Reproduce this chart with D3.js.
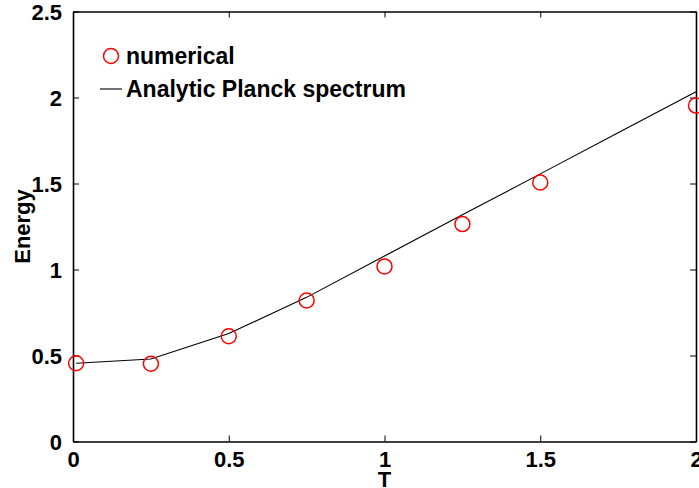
<!DOCTYPE html>
<html>
<head>
<meta charset="utf-8">
<script src="https://cdn.jsdelivr.net/npm/d3@7"></script>
<style>
  html, body { margin: 0; padding: 0; background: #fff; }
  svg text { font-family: "Liberation Sans", Arial, Helvetica, sans-serif; font-weight: bold; }
</style>
</head>
<body>
<div id="chart"></div>
<script>
// numerical results (circles)
const numT = [0.01, 0.25, 0.5, 0.75, 1.0, 1.25, 1.5, 2.0];
const numE = [0.455, 0.452, 0.612, 0.82, 1.018, 1.264, 1.506, 1.953];

// analytic Planck spectrum (line)
const anaT = [0.01, 0.25, 0.5, 0.75, 1.0, 1.25, 1.5, 1.75, 2.0];
const anaE = [0.455, 0.48, 0.628, 0.838, 1.078, 1.318, 1.556, 1.795, 2.033];

const xTicks = [0, 0.5, 1, 1.5, 2];
const yTicks = [0, 0.5, 1, 1.5, 2, 2.5];

const width = 699, height = 488;
const margin = { top: 11.5, right: 3, bottom: 46.5, left: 73 };
const iw = width - margin.left - margin.right;
const ih = height - margin.top - margin.bottom;

const svg = d3.select('#chart').append('svg')
  .attr('width', width).attr('height', height);

const g = svg.append('g').attr('transform', `translate(${margin.left},${margin.top})`);

const x = d3.scaleLinear().domain([0, 2]).range([0, iw]);
const y = d3.scaleLinear().domain([0, 2.5]).range([ih, 0]);

const fmt = d => String(d);
const tickLen = 6;

// axes (ticks pointing inward, on all four sides)
const axB = g.append('g').attr('transform', `translate(0,${ih})`)
  .call(d3.axisBottom(x).tickValues(xTicks).tickFormat(fmt).tickSizeInner(-tickLen).tickSizeOuter(0).tickPadding(10));
const axT = g.append('g')
  .call(d3.axisTop(x).tickValues(xTicks).tickFormat('').tickSizeInner(-tickLen).tickSizeOuter(0));
const axL = g.append('g')
  .call(d3.axisLeft(y).tickValues(yTicks).tickFormat(fmt).tickSizeInner(-tickLen).tickSizeOuter(0).tickPadding(11));
const axR = g.append('g').attr('transform', `translate(${iw},0)`)
  .call(d3.axisRight(y).tickValues(yTicks).tickFormat('').tickSizeInner(-tickLen).tickSizeOuter(0));

[axB, axT, axL, axR].forEach(a => {
  a.select('.domain').attr('stroke', '#000').attr('stroke-width', 1.6);
  a.selectAll('.tick line').attr('stroke', '#000').attr('stroke-width', 1);
  a.selectAll('.tick text').attr('fill', '#000').style('font-size', '22px');
});
axB.selectAll('.tick text').attr('dy', '0.71em');
axL.selectAll('.tick text').attr('dy', '0.36em');

// analytic line
const line = d3.line().x((d, i) => x(anaT[i])).y(d => y(d));
g.append('path').datum(anaE)
  .attr('d', line).attr('fill', 'none').attr('stroke', '#000').attr('stroke-width', 1.1);

// numerical circles
g.selectAll('circle.num').data(numE).enter().append('circle')
  .attr('class', 'num')
  .attr('cx', (d, i) => x(numT[i])).attr('cy', d => y(d))
  .attr('r', 7.5)
  .attr('fill', 'none').attr('stroke', '#ff0000').attr('stroke-width', 1.5);

// legend
const lg = svg.append('g');
lg.append('circle').attr('cx', 111).attr('cy', 56).attr('r', 7.5)
  .attr('fill', 'none').attr('stroke', '#ff0000').attr('stroke-width', 1.5);
lg.append('text').attr('x', 126).attr('y', 64).style('font-size', '23px').text('numerical');
lg.append('line').attr('x1', 100).attr('x2', 122).attr('y1', 89).attr('y2', 89)
  .attr('stroke', '#000').attr('stroke-width', 1.1);
lg.append('text').attr('x', 126).attr('y', 97).style('font-size', '23px').text('Analytic Planck spectrum');

// axis titles
svg.append('text').attr('x', margin.left + x(1)).attr('y', 487)
  .attr('text-anchor', 'middle').style('font-size', '22px').text('T');
svg.append('text')
  .attr('transform', `translate(30,${margin.top + y(1.25)}) rotate(-90)`)
  .attr('text-anchor', 'middle').style('font-size', '22px').text('Energy');
</script>
</body>
</html>
